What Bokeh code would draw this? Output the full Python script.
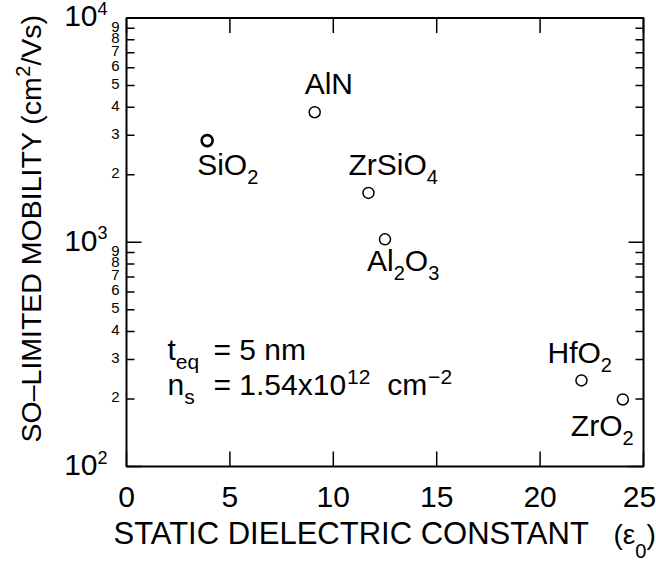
import math
from bokeh.plotting import figure
from bokeh.models import Range1d, Label
from bokeh.embed import file_html
from bokeh.resources import INLINE

# ---------------- data ----------------
materials = ["SiO2", "AlN", "ZrSiO4", "Al2O3", "HfO2", "ZrO2"]
label_pieces = [
    [("SiO", 0), ("2", 1)],
    [("AlN", 0)],
    [("ZrSiO", 0), ("4", 1)],
    [("Al", 0), ("2", 1), ("O", 0), ("3", 1)],
    [("HfO", 0), ("2", 1)],
    [("ZrO", 0), ("2", 1)],
]
dielectric = [3.9, 9.1, 11.7, 12.5, 22.0, 24.0]
mobility = [2840, 3800, 1660, 1030, 242, 199]

x_ticks = [0, 5, 10, 15, 20, 25]
y_major = [100, 1000, 10000]
y_major_exp = ["2", "3", "4"]
y_minor_digits = [2, 3, 4, 5, 6, 7, 8, 9]
y_minor = [d * 10 ** k for k in (2, 3) for d in y_minor_digits]

x_title = "STATIC DIELECTRIC CONSTANT"
y_title_pieces = [("SO\u2013LIMITED MOBILITY (cm", 0), ("2", 1), ("/Vs)", 0)]

# ---------------- layout / styles ----------------
W, H = 656, 563
FL, FR, FT, FB = 126.0, 643.0, 17.5, 466.0    # axes box in page pixels
FONT = "Liberation Sans"
BASE_FIX = 0.44                                # baseline correction (fraction of font size)
label_offsets = [(-10, -37), (-10, 15.7), (-20, 15), (-18, -34), (-34, 15), (-52, -39)]
marker_lw = [2.6, 1.5, 1.5, 1.5, 1.5, 1.5]

AW = {'A': 667, 'l': 222, 'N': 722, 'S': 667, 'i': 222, 'O': 778, 'Z': 611, 'r': 333,
      'H': 722, 'f': 278, 't': 278, 'e': 556, 'q': 556, 'n': 556, 's': 500, 'm': 833,
      ' ': 278, '=': 584, '.': 278, 'x': 500, 'c': 500, '(': 333, ')': 333,
      '\u03b5': 446, '\u2212': 584, 'L': 556, 'I': 278, 'M': 833, 'T': 611, 'E': 667,
      'D': 722, 'B': 667, 'Y': 667, '/': 278, 'V': 667, '\u2013': 556}


def tw(s, size):
    return sum(AW.get(c, 556) for c in s) / 1000.0 * size


xlo, xhi = x_ticks[0], x_ticks[-1]
ylo, yhi = y_major[0], y_major[-1]
xpp = (xhi - xlo) / (FR - FL)
dpp = (math.log10(yhi) - math.log10(ylo)) / (FB - FT)
x_range = Range1d(xlo - FL * xpp, xhi + (W - FR) * xpp)
y_range = Range1d(10 ** (math.log10(ylo) - (H - FB) * dpp), 10 ** (math.log10(yhi) + FT * dpp))

p = figure(width=W, height=H, x_range=x_range, y_range=y_range, y_axis_type="log",
           output_backend="svg", toolbar_location=None, min_border=0,
           x_axis_location=None, y_axis_location=None)
p.grid.visible = False
p.outline_line_color = None
p.background_fill_color = "white"
p.border_fill_color = "white"

# axes box
p.quad(left=[xlo], right=[xhi], bottom=[ylo], top=[yhi], fill_color=None,
       line_color="black", line_width=2)

# x ticks (bottom and top), inward
n = len(x_ticks)
p.ray(x=x_ticks, y=[ylo] * n, length=15, angle=math.pi / 2, length_units="screen",
      line_color="black", line_width=1.5)
p.ray(x=x_ticks, y=[yhi] * n, length=15, angle=-math.pi / 2, length_units="screen",
      line_color="black", line_width=1.5)
# y ticks (left and right), inward
for ticks, ln in ((y_major, 15), (y_minor, 8)):
    m = len(ticks)
    p.ray(x=[xlo] * m, y=ticks, length=ln, angle=0, length_units="screen",
          line_color="black", line_width=1.5)
    p.ray(x=[xhi] * m, y=ticks, length=ln, angle=math.pi, length_units="screen",
          line_color="black", line_width=1.5)

p.scatter(dielectric, mobility, marker="circle", size=11, fill_color="white",
          line_color="black", line_width=marker_lw)


def put(text, x, y, dx, dy, size, align="left", angle=0.0):
    fix = BASE_FIX * size
    if angle:
        dx -= fix * math.sin(angle)
        dy += fix * math.cos(angle)
    else:
        dy += fix
    p.add_layout(Label(x=x, y=y, x_offset=dx, y_offset=dy, text=text,
                       text_font=FONT, text_font_size=f"{size}px", text_color="black",
                       text_align=align, text_baseline="alphabetic", angle=angle))


# point labels
for xv, yv, pieces, (dx, dy) in zip(dielectric, mobility, label_pieces, label_offsets):
    cx = dx
    for txt, sub in pieces:
        size = 20 if sub else 30
        put(txt, xv, yv, cx, dy - (8 if sub else 0), size)
        cx += tw(txt, size)

# y tick labels
for v, e in zip(y_major, y_major_exp):
    put("10", xlo, v, -29, -11.5, 30, align="right")
    put(e, xlo, v, -29, 1.5, 18)
for v in y_minor:
    d = int(round(v / 10 ** math.floor(math.log10(v))))
    put(str(d), xlo, v, -7, -5, 15, align="right")

# x tick labels
for t in x_ticks:
    shift = -4 if t == x_ticks[-1] else 0
    put(str(t), t, ylo, shift, -44, 30, align="center")

# x title
put(x_title, xlo, ylo, -13, -80.7, 31)
ex = 487
put("(\u03b5", xlo, ylo, ex, -80.7, 28)
ex += tw("(\u03b5", 28)
put("0", xlo, ylo, ex, -93, 20)
ex += tw("0", 20)
put(")", xlo, ylo, ex, -80.7, 28)

# y title (rotated, reads bottom to top)
ty = 466 - 442
for txt, sup in y_title_pieces:
    size = 20 if sup else 28.5
    put(txt, xlo, ylo, -83.3 - (11 if sup else 0), ty, size, angle=math.pi / 2)
    ty += tw(txt, size)

# annotation
fs, ss = 30, 21
b1, b2 = 466 - 362, 466 - 397
put("t", xlo, ylo, 41, b1, fs)
put("eq", xlo, ylo, 41 + tw("t", fs), b1 - 8, ss)
put("= 5 nm", xlo, ylo, 87, b1, fs)
put("n", xlo, ylo, 41, b2, fs)
put("s", xlo, ylo, 41 + tw("n", fs), b2 - 8, ss)
s2 = "= 1.54x10"
put(s2, xlo, ylo, 87, b2, fs)
x2 = 87 + tw(s2, fs) + 1
put("12", xlo, ylo, x2, b2 + 11, ss)
x3 = x2 + tw("12", ss) + 2 * tw(" ", fs)
put("cm", xlo, ylo, x3, b2, fs)
put("\u22122", xlo, ylo, x3 + tw("cm", fs) + 1, b2 + 11, ss)

open("out.html", "w").write(file_html(p, INLINE))
